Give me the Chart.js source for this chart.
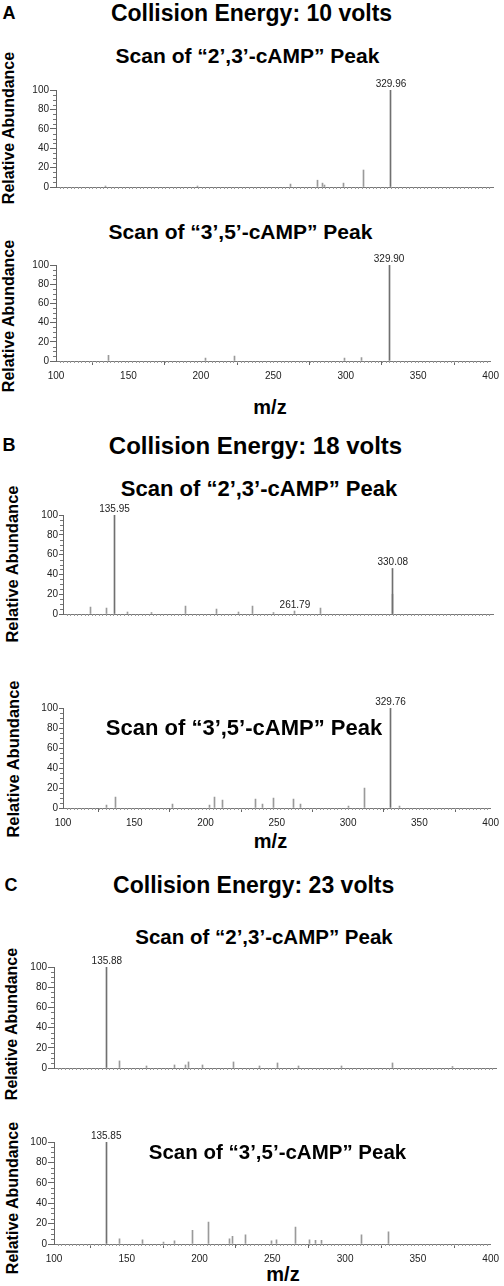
<!DOCTYPE html>
<html><head><meta charset="utf-8">
<script src="https://cdn.jsdelivr.net/npm/chart.js@4.4.1/dist/chart.umd.min.js"></script>
<style>
html,body{margin:0;padding:0;background:#fff;}
#wrap{position:relative;width:504px;height:1286px;overflow:hidden;font-family:"Liberation Sans",Arial,sans-serif;}
.t{position:absolute;transform:translate(-50%,-50%);white-space:nowrap;font-weight:bold;line-height:1;color:#000;}
.v{position:absolute;transform:translate(-50%,-50%) rotate(-90deg);white-space:nowrap;font-weight:bold;line-height:1;color:#000;}
canvas{position:absolute;left:0;}
</style></head><body><div id="wrap">
<div class="t" style="left:9px;top:13px;font-size:18px">A</div>
<div class="t" style="left:251.5px;top:13px;font-size:23px">Collision Energy: 10 volts</div>
<div class="t" style="left:247.5px;top:55px;font-size:21px">Scan of “2’,3’-cAMP” Peak</div>
<div class="t" style="left:240.5px;top:231px;font-size:21px">Scan of “3’,5’-cAMP” Peak</div>
<div class="v" style="left:8.5px;top:128px;font-size:16px">Relative Abundance</div>
<div class="v" style="left:8.5px;top:316px;font-size:16px">Relative Abundance</div>
<div class="t" style="left:270px;top:407px;font-size:20px">m/z</div>

<div class="t" style="left:9px;top:445px;font-size:18px">B</div>
<div class="t" style="left:255.5px;top:446px;font-size:24px">Collision Energy: 18 volts</div>
<div class="t" style="left:259px;top:489px;font-size:22px">Scan of “2’,3’-cAMP” Peak</div>
<div class="v" style="left:12px;top:564px;font-size:16.5px">Relative Abundance</div>
<div class="v" style="left:13px;top:759px;font-size:16.5px">Relative Abundance</div>
<div class="t" style="left:270.5px;top:841px;font-size:20px">m/z</div>

<div class="t" style="left:11px;top:884.5px;font-size:18px">C</div>
<div class="t" style="left:253.7px;top:884.5px;font-size:23px">Collision Energy: 23 volts</div>
<div class="t" style="left:264px;top:937px;font-size:20.5px">Scan of “2’,3’-cAMP” Peak</div>
<div class="v" style="left:12px;top:1024px;font-size:16px">Relative Abundance</div>
<div class="v" style="left:13px;top:1198px;font-size:16px">Relative Abundance</div>
<div class="t" style="left:283px;top:1274px;font-size:20px">m/z</div>
</div>
<script>
// ---- data ----
const xTickLabels = [100, 150, 200, 250, 300, 350, 400];
const yTickLabels = [0, 20, 40, 60, 80, 100];

const mzA1 = [134, 197, 261, 279.6, 282.9, 284.2, 297.3, 311.2, 329.96];
const abA1 = [1, 1, 3, 7, 4, 2, 4, 17.5, 100];
const labA1 = [329.96];

const mzA2 = [135.9, 203.2, 222.9, 298.9, 311, 329.90];
const abA2 = [6, 3, 5, 3, 3.5, 100];
const labA2 = [329.90];

const mzB1 = [119.3, 130.5, 135.95, 145.1, 161.4, 185.6, 207, 222.6, 232.4, 246.8, 261.79, 279.5, 329.6, 330.08];
const abB1 = [7, 6, 100, 2, 1.5, 8, 5, 2, 8, 1.5, 3, 6, 20, 46];
const labB1 = [135.95, 261.79, 330.08];

const mzB2 = [130.5, 136.5, 177, 202.8, 206.5, 211.9, 235.2, 239.9, 248, 261.4, 266.5, 300.2, 311.2, 329.76, 335.8];
const abB2 = [3, 11, 4, 3, 11, 8, 9, 4, 10, 9, 4, 2, 20, 100, 2];
const labB2 = [329.76];

const mzC1 = [135.88, 144.3, 162.9, 181.9, 189.1, 191.4, 200.7, 221.7, 239.3, 251.5, 265.8, 295.2, 329.9, 370.6];
const abC1 = [100, 7, 2, 3, 3, 6, 3, 6, 2, 5, 2, 2, 5, 1.5];
const labC1 = [135.88];

const mzC2 = [135.85, 145.3, 160.9, 175.1, 183, 195.2, 206.3, 220.3, 222.3, 231.4, 249.5, 253, 265.8, 275.3, 280, 283.5, 311.6, 329.9];
const abC2 = [100, 5, 4, 2, 3, 13.5, 21.5, 5, 7.5, 9, 3, 4, 16.5, 4, 3.5, 3.5, 9, 12];
const labC2 = [135.85];

// ---- layout ----
Chart.defaults.font.family = '"Liberation Sans", Arial, sans-serif';
const wrap = document.getElementById('wrap');

const snapBars = {
  id: 'snapBars',
  beforeDatasetsDraw(chart) {
    chart.getDatasetMeta(0).data.forEach(el => { el.x = Math.round(el.x - 0.5) + 0.5; });
  }
};

function makePanel(mz, ab, labeled, g) {
  const padTop = 20;
  const xh = g.showX ? 28 : 8;
  const h = (g.y0 - g.y100) + padTop + xh;
  const cv = document.createElement('canvas');
  cv.style.top = (g.y100 - padTop) + 'px';
  cv.style.width = '504px'; cv.style.height = h + 'px';
  cv.width = 504; cv.height = h;
  wrap.appendChild(cv);

  const decor = {
    id: 'decor',
    afterDraw(chart) {
      const {ctx, chartArea: a, scales: {x, y}} = chart;
      ctx.save();
      ctx.strokeStyle = '#777'; ctx.lineWidth = 1;
      ctx.beginPath();
      for (let v = 5; v < 100; v += 5) {
        if (v % 20 === 0) continue;
        const py = Math.round(y.getPixelForValue(v)) + 0.5;
        ctx.moveTo(a.left - 3, py); ctx.lineTo(a.left, py);
      }
      ctx.stroke();
      ctx.strokeStyle = '#999';
      ctx.beginPath();
      for (let v = 102.5; v < 400; v += 2.5) {
        const px = Math.round(x.getPixelForValue(v)) + 0.5;
        ctx.moveTo(px, a.bottom); ctx.lineTo(px, a.bottom + 2);
      }
      ctx.stroke();
      ctx.fillStyle = '#222';
      ctx.font = '10px "Liberation Sans", Arial, sans-serif';
      ctx.textAlign = 'center'; ctx.textBaseline = 'middle';
      labeled.forEach(m => {
        const i = mz.indexOf(m);
        const px = x.getPixelForValue(m);
        const py = y.getPixelForValue(ab[i]);
        ctx.fillText(m.toFixed(2), px, py - 6);
      });
      ctx.restore();
    }
  };

  new Chart(cv, {
    type: 'bar',
    data: {datasets: [{
      data: mz.map((m, i) => ({x: m, y: ab[i]})),
      backgroundColor: c => (c.raw && c.raw.y >= 40) ? '#707070' : '#9a9a9a',
      barThickness: 1, borderWidth: 0
    }]},
    options: {
      responsive: false, animation: false, devicePixelRatio: 1,
      layout: {padding: {top: padTop, left: 0, right: 504 - g.right, bottom: 0}},
      plugins: {legend: {display: false}, tooltip: {enabled: false}},
      scales: {
        x: {
          type: 'linear', min: 100, max: 400, offset: false,
          afterFit: s => { s.height = xh; },
          afterBuildTicks: s => { s.ticks = xTickLabels.map(v => ({value: v})); },
          grid: {display: g.showX, drawOnChartArea: false, drawTicks: true, tickLength: 4, color: '#666'},
          border: {display: true, color: '#777'},
          ticks: {display: g.showX, autoSkip: false, maxRotation: 0, padding: 5, font: {size: 10}, color: '#222'}
        },
        y: {
          min: 0, max: 100,
          afterFit: s => { s.width = g.left; },
          afterBuildTicks: s => { s.ticks = yTickLabels.map(v => ({value: v})); },
          grid: {drawOnChartArea: false, drawTicks: true, tickLength: g.tl, color: '#666'},
          border: {color: '#666'},
          ticks: {font: {size: 10}, color: '#222', padding: 1}
        }
      }
    },
    plugins: [snapBars, decor]
  });
}

makePanel(mzA1, abA1, labA1, {left: 56, right: 493, y100: 90, y0: 187, tl: 6, showX: false});
makePanel(mzA2, abA2, labA2, {left: 56, right: 493, y100: 265, y0: 361, tl: 6, showX: true});
makePanel(mzB1, abB1, labB1, {left: 63, right: 493, y100: 515, y0: 614, tl: 4, showX: false});
makePanel(mzB2, abB2, labB2, {left: 63, right: 493, y100: 708, y0: 808, tl: 4, showX: true});
makePanel(mzC1, abC1, labC1, {left: 54, right: 496, y100: 967, y0: 1068, tl: 6, showX: false});
makePanel(mzC2, abC2, labC2, {left: 54, right: 496, y100: 1142, y0: 1244, tl: 6, showX: true});

// subtitles that sit inside the plot areas (drawn above canvases)
[['Scan of “3’,5’-cAMP” Peak', 244, 728, 22], ['Scan of “3’,5’-cAMP” Peak', 277.5, 1151.5, 20.5]].forEach(([t, x, y, f]) => {
  const d = document.createElement('div');
  d.className = 't'; d.textContent = t;
  d.style.left = x + 'px'; d.style.top = y + 'px'; d.style.fontSize = f + 'px';
  wrap.appendChild(d);
});
</script>
</body></html>
